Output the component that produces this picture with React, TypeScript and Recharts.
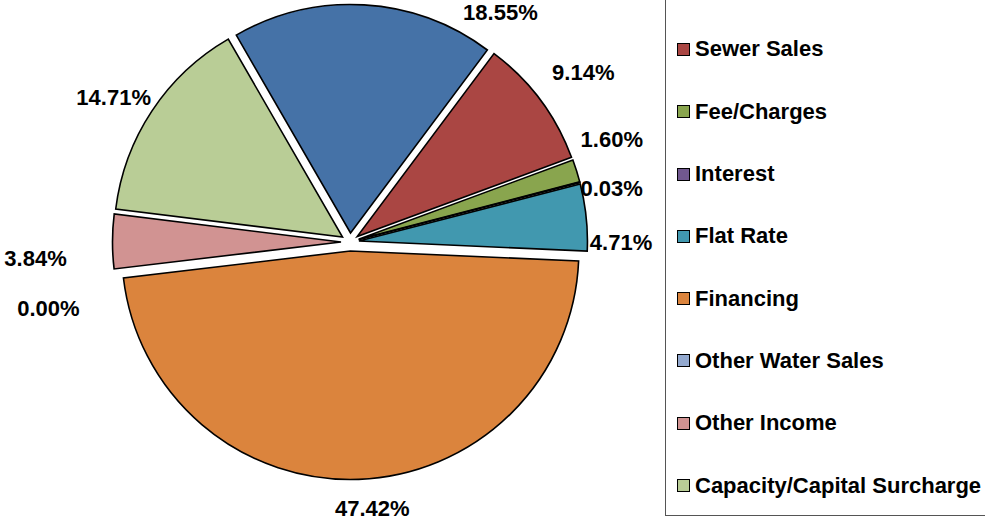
import { Cell, Legend, Pie, PieChart } from "recharts";

const categories = [
  "Water Sales",
  "Sewer Sales",
  "Fee/Charges",
  "Interest",
  "Flat Rate",
  "Financing",
  "Other Water Sales",
  "Other Income",
  "Capacity/Capital Surcharge",
];
const shares = [18.55, 9.14, 1.6, 0.03, 4.71, 47.42, 0.0, 3.84, 14.71];
const colors = [
  "#4572A7",
  "#AA4643",
  "#89A54E",
  "#71588F",
  "#4198AF",
  "#DB843D",
  "#93A9CF",
  "#D19392",
  "#B9CD96",
];

const data = categories.map((name, i) => ({ name, value: shares[i] }));

const FONT = '"Liberation Sans", Arial, sans-serif';
const CX = 350;
const CY = 242;
const R = 228.5;
const EXPLODE = 9;
const START = 120; // first slice begins at 330° clockwise from 12 o'clock
const RAD = Math.PI / 180;

const total = shares.reduce((a, b) => a + b, 0);
const midAngles = shares.map((v, i) => {
  const before = shares.slice(0, i).reduce((a, b) => a + b, 0);
  return START - ((before + v / 2) / total) * 360;
});

// Excel's "best fit" pushes some labels away from the slice middle
const labelNudge: [number, number][] = [
  [134, 47],
  [11, -4],
  [-3, -20],
  [-7, 15],
  [-5, 29],
  [12, -11],
  [-26, 33],
  [-37, 17],
  [-5, 8],
];

const makeLabel = (slice: number) => (props: any) => {
  if (props.index !== slice) return null;
  const m = midAngles[slice];
  const r = R + EXPLODE + 40;
  const x = CX + r * Math.cos(m * RAD) + labelNudge[slice][0];
  const y = CY - r * Math.sin(m * RAD) + labelNudge[slice][1];
  return (
    <text
      x={x}
      y={y + 8}
      textAnchor="middle"
      fill="#000"
      fontFamily={FONT}
      fontWeight={700}
      fontSize={22}
    >
      {shares[slice].toFixed(2)}%
    </text>
  );
};

const ROW_H = 62.3;

// the legend's first entry (Water Sales) sits above the visible area, so the
// box starts one row higher and only the visible entries are listed
const LegendBox = () => (
  <div
    style={{
      border: "1px solid #555",
      height: "100%",
      boxSizing: "border-box",
      background: "#fff",
      paddingTop: ROW_H,
    }}
  >
    {categories.slice(1).map((name, k) => (
      <div
        key={name}
        style={{ height: ROW_H, display: "flex", alignItems: "center", paddingLeft: 11 }}
      >
        <span
          style={{
            width: 11,
            height: 11,
            flexShrink: 0,
            background: colors[k + 1],
            border: "1px solid #000",
            marginRight: 5,
          }}
        />
        <span
          style={{
            fontFamily: FONT,
            fontWeight: 700,
            fontSize: 22,
            color: "#000",
            whiteSpace: "nowrap",
          }}
        >
          {name}
        </span>
      </div>
    ))}
  </div>
);

export default function App() {
  return (
    <div
      style={{
        position: "absolute",
        left: 0,
        top: 0,
        width: 985,
        height: 523,
        overflow: "hidden",
        background: "#fff",
      }}
    >
      <PieChart width={985} height={523} margin={{ top: 0, right: 0, bottom: 0, left: 0 }}>
        {shares.map((_, slice) => {
          const m = midAngles[slice];
          return (
            <Pie
              key={slice}
              data={data}
              dataKey="value"
              nameKey="name"
              cx={CX + EXPLODE * Math.cos(m * RAD)}
              cy={CY - EXPLODE * Math.sin(m * RAD)}
              outerRadius={R}
              startAngle={START}
              endAngle={START - 360}
              isAnimationActive={false}
              labelLine={false}
              label={makeLabel(slice)}
            >
              {data.map((d, j) => (
                <Cell
                  key={d.name}
                  fill={j === slice ? colors[j] : "none"}
                  stroke={j === slice && d.value > 0 ? "#000" : "none"}
                  strokeWidth={1.6}
                />
              ))}
            </Pie>
          );
        })}
        <Legend
          layout="vertical"
          align="right"
          verticalAlign="top"
          content={<LegendBox />}
          wrapperStyle={{ left: 665, top: -45, width: 340, height: 561 }}
        />
      </PieChart>
    </div>
  );
}
